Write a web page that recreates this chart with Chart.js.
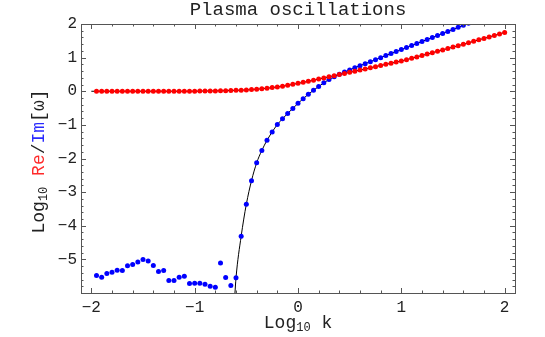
<!DOCTYPE html>
<html>
<head>
<meta charset="utf-8">
<script src="https://cdn.jsdelivr.net/npm/chart.js@4.4.1/dist/chart.umd.min.js"></script>
<style>
html,body{margin:0;padding:0;background:#fff;}
canvas{display:block;}
</style>
</head>
<body>
<canvas id="plasmaChart" width="545" height="337"></canvas>
<script>
// Plasma oscillations: log10 Re/Im of omega versus log10 k

const logK=[
-1.95,-1.9,-1.85,-1.8,-1.75,-1.7,-1.65,-1.6,-1.55,-1.5,
-1.45,-1.4,-1.35,-1.3,-1.25,-1.2,-1.15,-1.1,-1.05,-1,
-0.95,-0.9,-0.85,-0.8,-0.75,-0.7,-0.65,-0.6,-0.55,-0.5,
-0.45,-0.4,-0.35,-0.3,-0.25,-0.2,-0.15,-0.1,-0.05,0,
0.05,0.1,0.15,0.2,0.25,0.3,0.35,0.4,0.45,0.5,
0.55,0.6,0.65,0.7,0.75,0.8,0.85,0.9,0.95,1,
1.05,1.1,1.15,1.2,1.25,1.3,1.35,1.4,1.45,1.5,
1.55,1.6,1.65,1.7,1.75,1.8,1.85,1.9,1.95,2
];

// real part (red)
const reOmega=[
0,0,0,0,0,0,0,0,0,0,
0,0,0,0,0,0,0,0,0,0,
0.005,0.007,0.009,0.011,0.014,0.018,0.022,0.027,0.033,0.04,
0.05,0.06,0.075,0.09,0.108,0.128,0.15,0.175,0.205,0.235,
0.265,0.297,0.33,0.363,0.396,0.43,0.463,0.496,0.53,0.563,
0.596,0.63,0.664,0.698,0.732,0.766,0.8,0.835,0.868,0.9,
0.94,0.98,1.02,1.065,1.105,1.145,1.19,1.23,1.27,1.315,
1.355,1.4,1.44,1.485,1.53,1.57,1.615,1.66,1.705,1.75
];

// imaginary part (blue), first points are numerical noise
const imOmega=[
-5.48,-5.53,-5.42,-5.38,-5.32,-5.33,-5.19,-5.15,-5.08,-5,
-5.05,-5.18,-5.36,-5.33,-5.63,-5.63,-5.53,-5.5,-5.72,-5.71,
-5.71,-5.74,-5.8,-5.83,-5.11,-5.54,-5.78,
-5.55,-4.31,-3.36,-2.66,-2.13,-1.76,-1.46,-1.21,-0.99,-0.82,
-0.66,-0.51,-0.36,-0.22,-0.09,0.03,0.14,0.25,0.35,0.43,
0.505,0.57,0.635,0.7,0.76,0.82,0.88,0.94,1,1.06,
1.12,1.18,1.24,1.3,1.36,1.42,1.48,1.54,1.6,1.66,
1.72,1.78,1.84,1.9,1.96,2.02
];

// where the black curves begin
const reCurveStart=[-2,0];
const imCurveStart=[-0.61,-6];
const imCurveFrom=-0.6;

const xTicks=[-2,-1,0,1,2];
const yTicks=[-5,-4,-3,-2,-1,0,1,2];

const FONT="'Liberation Mono','Courier New',monospace";
const INK="#222";

let rePts=logK.map((x,i)=>({x:x,y:reOmega[i]}));
let imPts=imOmega.map((y,i)=>({x:logK[i],y:y}));
let reCurve=[{x:reCurveStart[0],y:reCurveStart[1]}].concat(rePts);
let imCurve=[{x:imCurveStart[0],y:imCurveStart[1]}].concat(imPts.filter(p=>p.x>=imCurveFrom-1e-9));

function fmt(v){
return v<0?"\u2212"+Math.abs(v):String(v);
}

// draws a run of coloured / subscripted pieces centred on 0
function drawPieces(ctx,pieces){
let total=0;
pieces.forEach(p=>{
ctx.font=p.size+"px "+FONT;
p.w=ctx.measureText(p.t).width;
total+=p.w;
});
let x=-total/2;
pieces.forEach(p=>{
ctx.font=p.size+"px "+FONT;
ctx.fillStyle=p.c;
ctx.fillText(p.t,x,p.dy||0);
x+=p.w;
});
}

const framePlugin={
id:"frame",
afterDatasetsDraw(chart){
let ctx=chart.ctx;
let a=chart.chartArea;
let xs=chart.scales.x;
let ys=chart.scales.y;
let cx=(a.left+a.right)/2;
ctx.save();
ctx.strokeStyle="#555";
ctx.lineWidth=1;
ctx.strokeRect(Math.round(a.left)+0.5,Math.round(a.top)+0.5,Math.round(a.right-a.left),Math.round(a.bottom-a.top));
ctx.beginPath();
for(let i=-10;i<=10;i++){
let v=i/5;
let len=i%5==0?5:2.5;
let px=Math.round(xs.getPixelForValue(v))+0.5;
ctx.moveTo(px,a.bottom);ctx.lineTo(px,a.bottom-len);
ctx.moveTo(px,a.top);ctx.lineTo(px,a.top+len);
}
for(let i=-30;i<=10;i++){
let v=i/5;
let len=i%5==0?5:2.5;
let py=Math.round(ys.getPixelForValue(v))+0.5;
ctx.moveTo(a.left,py);ctx.lineTo(a.left+len,py);
ctx.moveTo(a.right,py);ctx.lineTo(a.right-len,py);
}
ctx.stroke();

ctx.textBaseline="middle";
ctx.textAlign="left";

// title
ctx.save();
ctx.translate(cx,10);
drawPieces(ctx,[{t:"Plasma oscillations",c:INK,size:19}]);
ctx.restore();

// axis titles
ctx.save();
ctx.translate(cx,323);
drawPieces(ctx,[
{t:"Log",c:INK,size:18},
{t:"10",c:INK,size:12,dy:5},
{t:" k",c:INK,size:18}
]);
ctx.restore();

ctx.save();
ctx.translate(39,(a.top+a.bottom)/2+3);
ctx.rotate(-Math.PI/2);
drawPieces(ctx,[
{t:"Log",c:INK,size:18},
{t:"10",c:INK,size:12,dy:5},
{t:" ",c:INK,size:18},
{t:"Re",c:"#ff2a2a",size:18},
{t:"/",c:INK,size:18},
{t:"Im",c:"#2a2aff",size:18},
{t:"[\u03c9]",c:INK,size:18}
]);
ctx.restore();
ctx.restore();
}
};

new Chart(
document.getElementById("plasmaChart"),
{
type:"scatter",
data:{
datasets:[
{
label:"Re",
data:rePts,
showLine:false,
pointRadius:2.5,
pointHoverRadius:2.5,
pointBorderWidth:0,
pointBackgroundColor:"#ff0000",
order:1
},
{
label:"Im",
data:imPts,
showLine:false,
pointRadius:2.5,
pointHoverRadius:2.5,
pointBorderWidth:0,
pointBackgroundColor:"#0000ff",
order:1
},
{
label:"Re curve",
data:reCurve,
showLine:true,
pointRadius:0,
borderColor:"#000",
borderWidth:1,
cubicInterpolationMode:"monotone",
order:2
},
{
label:"Im curve",
data:imCurve,
showLine:true,
pointRadius:0,
borderColor:"#000",
borderWidth:1,
cubicInterpolationMode:"monotone",
order:2
}
]
},
options:{
responsive:false,
animation:false,
devicePixelRatio:1,
layout:{padding:{left:0,right:30,top:24,bottom:0}},
plugins:{
legend:{display:false},
tooltip:{enabled:false},
title:{display:false}
},
scales:{
x:{
type:"linear",
min:-2.1,
max:2.1,
grid:{display:false,drawTicks:false,tickLength:0},
border:{display:false},
afterBuildTicks:s=>{s.ticks=xTicks.map(v=>({value:v}));},
afterFit:s=>{s.height=44;},
ticks:{
color:INK,
font:{family:FONT,size:16},
padding:5,
maxRotation:0,
callback:v=>fmt(v)
}
},
y:{
type:"linear",
min:-6,
max:2,
grid:{display:false,drawTicks:false,tickLength:0},
border:{display:false},
afterBuildTicks:s=>{s.ticks=yTicks.map(v=>({value:v}));},
afterFit:s=>{s.width=81;},
ticks:{
color:INK,
font:{family:FONT,size:16},
padding:4,
callback:v=>fmt(v)
}
}
}
},
plugins:[framePlugin]
}
);
</script>
</body>
</html>
